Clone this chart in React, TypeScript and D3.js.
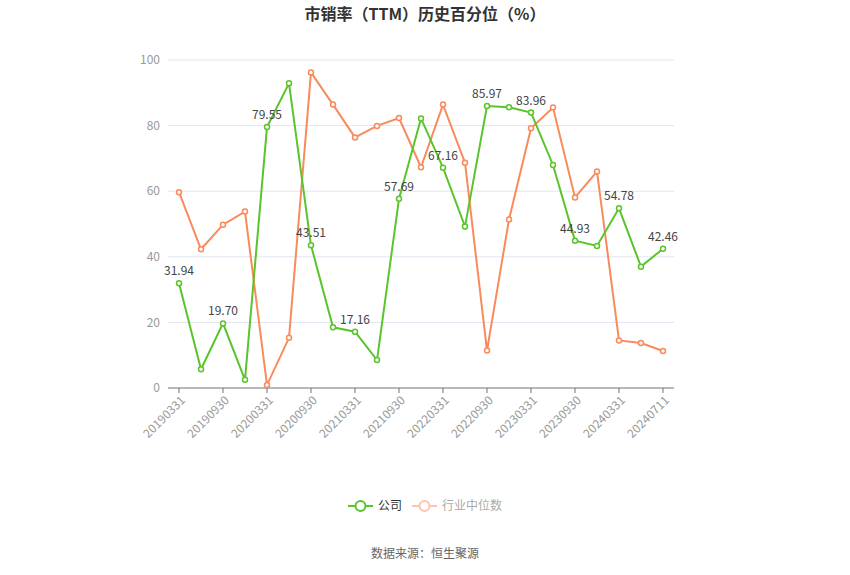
import React, { useEffect, useRef } from 'react';
import * as d3 from 'd3';

const dates = [
  '20190331', '20190630', '20190930', '20191231', '20200331', '20200630',
  '20200930', '20201231', '20210331', '20210630', '20210930', '20211231',
  '20220331', '20220630', '20220930', '20221231', '20230331', '20230630',
  '20230930', '20231231', '20240331', '20240630', '20240711',
];
const company = [
  31.94, 5.7, 19.7, 2.5, 79.55, 92.9, 43.51, 18.5, 17.16, 8.5, 57.69, 82.2,
  67.16, 49.2, 85.97, 85.6, 83.96, 68.0, 44.93, 43.3, 54.78, 37.0, 42.46,
];
const industry = [
  59.7, 42.3, 49.8, 53.8, 0.9, 15.3, 96.2, 86.4, 76.4, 79.9, 82.3, 67.3,
  86.4, 68.7, 11.4, 51.4, 79.2, 85.5, 58.1, 66.0, 14.5, 13.7, 11.3,
];
const yTicks = [0, 20, 40, 60, 80, 100];

const GREEN = '#5ac42c';
const ORANGE = '#f98a5c';

function App() {
  const svgRef = useRef<SVGSVGElement>(null);

  useEffect(() => {
    const svg = d3.select(svgRef.current);
    svg.selectAll('*').remove();
    const width = 850;
    const height = 575;
    const margin = { top: 60, right: 176, bottom: 187, left: 168 };
    const innerW = width - margin.left - margin.right;
    const innerH = height - margin.top - margin.bottom;

    svg.attr('width', width).attr('height', height);
    const font = 'Microsoft YaHei, "Noto Sans CJK SC", sans-serif';

    svg.append('text')
      .attr('x', width / 2).attr('y', 20)
      .attr('text-anchor', 'middle')
      .attr('font-family', font)
      .attr('font-size', 16).attr('font-weight', 'bold')
      .attr('fill', '#333')
      .text('市销率（TTM）历史百分位（%）');

    const g = svg.append('g').attr('transform', `translate(${margin.left},${margin.top})`);

    const x = d3.scaleBand().domain(dates).range([0, innerW]);
    const y = d3.scaleLinear().domain([0, 100]).range([innerH, 0]);
    const cx = (d: string) => (x(d) as number) + x.bandwidth() / 2;

    // grid
    g.selectAll('.grid').data(yTicks.filter(t => t > 0)).enter().append('line')
      .attr('x1', 0).attr('x2', innerW)
      .attr('y1', d => y(d)).attr('y2', d => y(d))
      .attr('stroke', '#e0e6f1').attr('stroke-width', 1);

    g.selectAll('.ylab').data(yTicks).enter().append('text')
      .attr('x', -8).attr('y', d => y(d)).attr('dy', '0.35em')
      .attr('text-anchor', 'end')
      .attr('font-family', font).attr('font-size', 12)
      .attr('fill', '#999')
      .text(d => d);

    // x axis
    g.append('line').attr('x1', 0).attr('x2', innerW)
      .attr('y1', innerH).attr('y2', innerH)
      .attr('stroke', '#6e7079');
    const shown = dates.filter((_, i) => i % 2 === 0);
    g.selectAll('.xtick').data(shown).enter().append('line')
      .attr('x1', d => cx(d)).attr('x2', d => cx(d))
      .attr('y1', innerH).attr('y2', innerH + 5)
      .attr('stroke', '#6e7079');
    g.selectAll('.xlab').data(shown).enter().append('text')
      .attr('transform', d => `translate(${cx(d) + 4},${innerH + 10}) rotate(-45)`)
      .attr('text-anchor', 'end').attr('dy', '0.35em')
      .attr('font-family', font).attr('font-size', 12)
      .attr('fill', '#999')
      .text(d => d);

    const line = d3.line<number>()
      .x((_, i) => cx(dates[i]))
      .y(d => y(d));

    const series = [
      { data: industry, color: ORANGE },
      { data: company, color: GREEN },
    ];
    series.forEach(s => {
      g.append('path').datum(s.data)
        .attr('d', line)
        .attr('fill', 'none')
        .attr('stroke', s.color).attr('stroke-width', 2);
      g.selectAll(null).data(s.data).enter().append('circle')
        .attr('cx', (_, i) => cx(dates[i])).attr('cy', d => y(d))
        .attr('r', 2.5)
        .attr('fill', '#fff').attr('stroke', s.color).attr('stroke-width', 1.5);
    });

    g.selectAll('.vlab').data(company).enter()
      .filter((_, i) => i % 2 === 0)
      .append('text')
      .attr('x', (_, i) => cx(dates[i * 2]))
      .attr('y', d => y(d) - 8)
      .attr('text-anchor', 'middle')
      .attr('font-family', font).attr('font-size', 12)
      .attr('fill', '#444')
      .text(d => d.toFixed(2));

    // legend
    const lg = svg.append('g').attr('transform', `translate(348,506)`);
    const items = [
      { name: '公司', color: GREEN, text: '#333' },
      { name: '行业中位数', color: '#fcc6ae', text: '#aaa' },
    ];
    let off = 0;
    items.forEach(it => {
      const ig = lg.append('g').attr('transform', `translate(${off},0)`);
      ig.append('line').attr('x1', 0).attr('x2', 25).attr('y1', 0).attr('y2', 0)
        .attr('stroke', it.color).attr('stroke-width', 2);
      ig.append('circle').attr('cx', 12.5).attr('cy', 0).attr('r', 5)
        .attr('fill', '#fff').attr('stroke', it.color).attr('stroke-width', 2);
      ig.append('text').attr('x', 30).attr('y', 0).attr('dy', '0.35em')
        .attr('font-family', font).attr('font-size', 12)
        .attr('fill', it.text).text(it.name);
      off += 30 + it.name.length * 12 + 10;
    });

    svg.append('text')
      .attr('x', width / 2).attr('y', 554).attr('dy', '0.35em')
      .attr('text-anchor', 'middle')
      .attr('font-family', font).attr('font-size', 12)
      .attr('fill', '#666')
      .text('数据来源：恒生聚源');
  }, []);

  return <svg ref={svgRef} style={{ position: 'absolute', left: 0, top: 0 }} />;
}

export default App;
